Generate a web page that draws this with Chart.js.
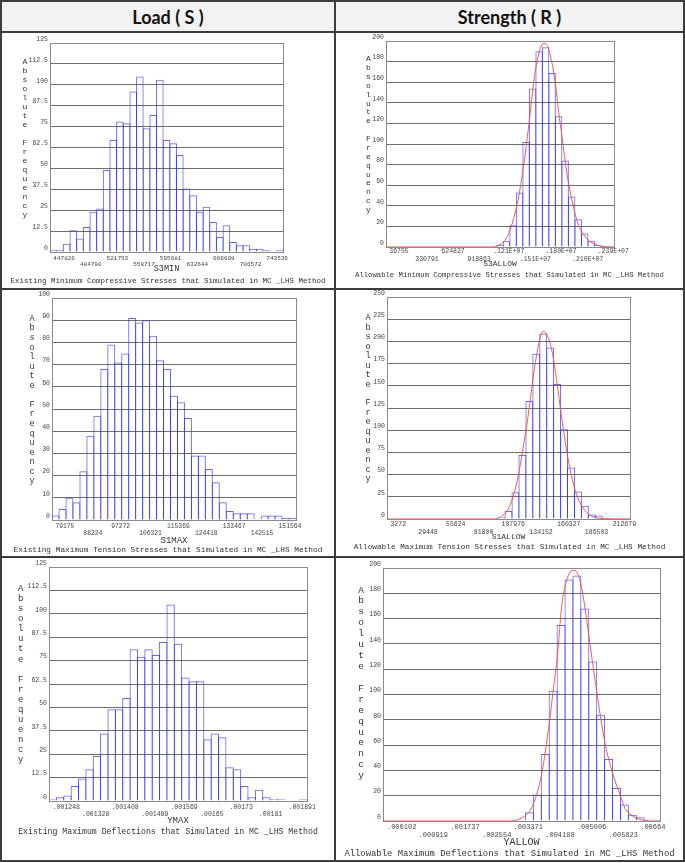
<!DOCTYPE html>
<html>
<head>
<meta charset="utf-8">
<script src="https://cdn.jsdelivr.net/npm/chart.js@4.4.1/dist/chart.umd.min.js"></script>
<style>
  body { margin: 0; background: #fff; }
  #page { position: relative; width: 685px; height: 863px; overflow: hidden; background: #fff; }
  .head { position: absolute; top: 2px; height: 29px; background: #f2f2f2; color: #111;
          font: bold 18px Lato, sans-serif; display: flex; align-items: center; justify-content: center; }
  .cap { position: absolute; text-align: center; white-space: nowrap; color: #333;
         font-family: "Liberation Mono", monospace; line-height: 10px; }
  .rule { position: absolute; background: #3c3c3c; }
  canvas { position: absolute; }
</style>
</head>
<body>
<div id="page">
  <div class="head" style="left:2px;width:332px">Load ( S )</div>
  <div class="head" style="left:336px;width:347px">Strength ( R )</div>

  <canvas id="c1" width="332" height="255" style="left:2px;top:33px"></canvas>
  <canvas id="c2" width="347" height="255" style="left:336px;top:33px"></canvas>
  <canvas id="c3" width="332" height="266" style="left:2px;top:290px"></canvas>
  <canvas id="c4" width="347" height="266" style="left:336px;top:290px"></canvas>
  <canvas id="c5" width="332" height="302" style="left:2px;top:558px"></canvas>
  <canvas id="c6" width="347" height="302" style="left:336px;top:558px"></canvas>

  <div class="cap" style="left:2px;width:332px;top:276px;font-size:7.5px">Existing Minimum Compressive Stresses that Simulated in MC _LHS Method</div>
  <div class="cap" style="left:336px;width:347px;top:270px;font-size:7.25px">Allowable Minimum Compressive Stresses that Simulated in MC _LHS Method</div>
  <div class="cap" style="left:2px;width:332px;top:545px;font-size:7.8px">Existing Maximum Tension Stresses that Simulated in MC _LHS Method</div>
  <div class="cap" style="left:336px;width:347px;top:542px;font-size:7.75px">Allowable Maximum Tension Stresses that Simulated in MC _LHS Method</div>
  <div class="cap" style="left:2px;width:332px;top:827px;font-size:8.2px">Existing Maximum Deflections that Simulated in MC _LHS Method</div>
  <div class="cap" style="left:336px;width:347px;top:849px;font-size:8.9px">Allowable Maximum Deflections that Simulated in MC _LHS Method</div>

  <div class="rule" style="left:0;top:0;width:685px;height:2px"></div>
  <div class="rule" style="left:0;top:31px;width:685px;height:2px"></div>
  <div class="rule" style="left:0;top:288px;width:685px;height:2px"></div>
  <div class="rule" style="left:0;top:556px;width:685px;height:2px"></div>
  <div class="rule" style="left:0;top:860px;width:685px;height:2px"></div>
  <div class="rule" style="left:0;top:0;width:2px;height:862px"></div>
  <div class="rule" style="left:334px;top:0;width:2px;height:862px"></div>
  <div class="rule" style="left:683px;top:0;width:2px;height:862px"></div>
</div>

<script>
// histogram counts (35 bins, 1200 samples) and axis labels
const s3minTicks = ['447826', '484790', '521753', '558717', '595681', '632644', '669608', '706572', '743536'];
const s3minCounts = [1, 1, 5, 13, 8, 15, 24, 26, 49, 67, 78, 77, 96, 105, 74, 82, 103, 67, 65, 58,
                     38, 34, 24, 27, 18, 9, 16, 6, 4, 4, 2, 2, 1, 0, 1];

const s3allowTicks = ['36755', '330791', '624827', '918863', '.121E+07', '.151E+07', '.180E+07', '.210E+07', '.239E+07'];
const s3allowCounts = [0, 0, 0, 0, 0, 0, 0, 0, 0, 0, 0, 0, 0, 0, 0, 0, 0,
                       2, 6, 21, 53, 102, 154, 190, 194, 169, 127, 84, 49, 27, 13, 6, 2, 1, 1];
const s3allowFitX = [0, 1196463, 1271473, 1328098, 1384723, 1440612, 1497237, 1553862, 1609752, 1666377,
                     1703882, 1742122, 1779627, 1806101, 1854637, 1911262, 1948766, 1986271, 2042896,
                     2099521, 2155411, 2212036, 2287045, 2362791, 2437800, 2569435];
const s3allowFitY = [0, 0, 1.6, 4.9, 13, 27.6, 48.6, 79.4, 116.7, 158.8, 179.9, 192.9, 197.7, 197.1,
                     186.4, 158.8, 131.3, 107, 71.3, 45.4, 25.9, 14.6, 6.5, 2.6, 0.6, 0];

const s1maxTicks = ['79175', '88224', '97272', '106321', '115369', '124418', '133467', '142515', '151564'];
const s1maxCounts = [2, 5, 10, 8, 22, 38, 47, 68, 79, 71, 75, 91, 89, 90, 83, 72, 68, 56, 53, 46,
                     29, 29, 23, 17, 8, 4, 3, 3, 3, 0, 2, 2, 2, 1, 1];

const s1allowTicks = ['3272', '29448', '55624', '81800', '107976', '134152', '160327', '186503', '212679'];
const s1allowCounts = [0, 0, 0, 0, 0, 0, 0, 0, 0, 0, 0, 0, 0, 0, 0, 0,
                       2, 9, 30, 72, 133, 186, 209, 193, 152, 101, 58, 31, 15, 5, 4, 1, 0, 0, 1];
const s1allowFitX = [0, 101497, 104639, 109350, 114062, 118774, 123485, 128197, 132909, 137620, 140761,
                     143903, 147044, 149269, 153326, 156467, 159608, 164320, 169032, 173743, 178455,
                     183167, 189449, 195731, 205220, 229040];
const s1allowFitY = [0, 0, 1.1, 4.1, 10.9, 24.8, 47.4, 79.4, 115.2, 158.5, 183, 201.8, 211.2, 210.1,
                     199.9, 183, 158.5, 117.1, 79.4, 49.3, 28.6, 15.4, 6, 1.9, 0.4, 0];

const ymaxTicks = ['.001248', '.001328', '.001408', '.001489', '.001569', '.00165', '.00173', '.00181', '.001891'];
const ymaxCounts = [1, 2, 3, 8, 12, 17, 24, 36, 49, 49, 55, 81, 77, 81, 78, 85, 105, 84, 66, 64,
                    64, 33, 36, 34, 18, 17, 8, 2, 6, 2, 1, 1, 0, 0, 1];

const yallowTicks = ['.000102', '.000919', '.001737', '.002554', '.003371', '.004188', '.005006', '.005823', '.00664'];
const yallowCounts = [0, 0, 0, 0, 0, 0, 0, 0, 0, 0, 0, 0, 0, 0, 0, 0, 0,
                      1, 7, 21, 53, 103, 155, 191, 194, 168, 126, 84, 49, 26, 13, 5, 3, 0, 1];
const yallowFitX = [0, 0.003326, 0.003412, 0.003583, 0.003755, 0.003884, 0.004090, 0.004297, 0.004399,
                    0.004503, 0.004615, 0.004709, 0.004830, 0.004934, 0.005044, 0.005132, 0.005242,
                    0.005347, 0.005518, 0.005725, 0.005931, 0.006127, 0.006250, 0.006421, 0.006636,
                    0.006936, 0.007151];
const yallowFitY = [0, 0, 0.5, 2.4, 6.6, 13.7, 36.1, 78.3, 104.6, 131, 170.5, 186.3, 196.8, 198.2, 194.2,
                    183.7, 162.6, 138.9, 102, 62.5, 37.5, 20.3, 10, 4.5, 1.3, 0, 0];

const freqMax = [125, 200, 100, 250, 125, 200];
const freqStep = [12.5, 20, 10, 25, 12.5, 20];

const MONO = '"Liberation Mono", "Courier New", monospace';

// box around the plot area
const frame = {
  id: 'frame',
  beforeDatasetsDraw(chart) {
    const { ctx, chartArea: a } = chart;
    ctx.save();
    ctx.strokeStyle = '#8a8a8a';
    ctx.lineWidth = 1;
    ctx.strokeRect(Math.round(a.left) + 0.5, Math.round(a.top) + 0.5, Math.round(a.width), Math.round(a.height));
    ctx.restore();
  }
};

// y title written as a column of upright letters
const stackLabel = {
  id: 'stackLabel',
  afterDraw(chart, args, o) {
    const ctx = chart.ctx;
    const chars = o.text.split('');
    const step = (o.y1 - o.y0) / (chars.length - 1);
    ctx.save();
    ctx.font = o.size + 'px ' + MONO;
    ctx.fillStyle = '#333';
    ctx.textAlign = 'center';
    ctx.textBaseline = 'middle';
    chars.forEach((c, i) => ctx.fillText(c, o.x, o.y0 + i * step));
    ctx.restore();
  }
};

function histogram(id, k, o) {
  const tv = o.ticks.map(Number);
  const w = (tv[tv.length - 1] - tv[0]) / (tv.length - 1) / 4;   // 4 bins between labels
  const datasets = [];
  if (o.fitX) {
    datasets.push({
      type: 'line',
      data: o.fitX.map((x, i) => ({ x: x, y: o.fitY[i] })),
      borderColor: 'rgba(255,70,70,0.9)',
      borderWidth: 1,
      pointRadius: 0,
      cubicInterpolationMode: 'monotone'
    });
  }
  datasets.push({
    type: 'bar',
    data: o.counts.map((c, i) => ({ x: tv[0] + i * w, y: c })),
    backgroundColor: 'rgba(0,0,0,0)',
    borderColor: 'rgba(45,45,255,0.72)',
    borderWidth: 1,
    barPercentage: 1.14,
    categoryPercentage: 1
  });

  new Chart(document.getElementById(id), {
    type: 'bar',
    data: { datasets },
    options: {
      responsive: false,
      animation: false,
      events: [],
      layout: { padding: o.pad },
      plugins: {
        legend: { display: false },
        tooltip: { enabled: false },
        stackLabel: Object.assign({ text: 'Absolute Frequency' }, o.stack)
      },
      scales: {
        x: {
          type: 'linear',
          offset: false,
          min: tv[0] - w / 2,
          max: tv[0] + 34.5 * w,
          grid: { display: false, drawTicks: false, offset: false },
          border: { display: false },
          afterBuildTicks: s => { s.ticks = tv.map(v => ({ value: v })); },
          afterFit: s => { s.height = o.xh; },
          ticks: {
            autoSkip: false, maxRotation: 0, minRotation: 0, align: 'start',
            padding: o.tickPad, color: '#444',
            font: { family: MONO, size: o.tickSize, lineHeight: o.tickLh + 'px' },
            callback: (v, i) => (i % 2 ? ['', o.ticks[i]] : o.ticks[i])
          },
          title: {
            display: true, text: o.name, color: '#333',
            font: { family: MONO, size: o.titleSize, lineHeight: 1.2 },
            padding: { top: 0, bottom: o.titlePad }
          }
        },
        y: {
          min: 0,
          max: freqMax[k],
          grid: { color: '#6e6e6e', drawTicks: false },
          border: { display: false },
          afterFit: s => { s.width = 30; },
          ticks: {
            stepSize: freqStep[k], padding: 2, labelOffset: -4, color: '#444',
            font: { family: MONO, size: 6.5 }
          }
        }
      }
    },
    plugins: [frame, stackLabel]
  });
}

histogram('c1', 0, {
  ticks: s3minTicks, counts: s3minCounts, name: 'S3MIN',
  pad: { left: 18, right: 51, top: 10, bottom: 0 }, xh: 36,
  tickPad: 3, tickSize: 6, tickLh: 6.6, titleSize: 8.5, titlePad: 14,
  stack: { x: 23, y0: 28.7, y1: 182, size: 8 }
});
histogram('c2', 1, {
  ticks: s3allowTicks, counts: s3allowCounts, fitX: s3allowFitX, fitY: s3allowFitY, name: 'S3ALLOW',
  pad: { left: 20, right: 69, top: 8, bottom: 0 }, xh: 41,
  tickPad: 0.5, tickSize: 6.5, tickLh: 8, titleSize: 8, titlePad: 19,
  stack: { x: 32.3, y0: 26, y1: 177, size: 8 }
});
histogram('c3', 2, {
  ticks: s1maxTicks, counts: s1maxCounts, name: 'S1MAX',
  pad: { left: 20, right: 38, top: 8, bottom: 0 }, xh: 36,
  tickPad: 3, tickSize: 6.3, tickLh: 7, titleSize: 9, titlePad: 10.3,
  stack: { x: 30, y0: 28.7, y1: 191, size: 8.5 }
});
histogram('c4', 3, {
  ticks: s1allowTicks, counts: s1allowCounts, fitX: s1allowFitX, fitY: s1allowFitY, name: 'S1ALLOW',
  pad: { left: 21, right: 53, top: 7, bottom: 0 }, xh: 37,
  tickPad: 1, tickSize: 6.5, tickLh: 8, titleSize: 8, titlePad: 13.9,
  stack: { x: 32, y0: 28, y1: 189, size: 8.5 }
});
histogram('c5', 4, {
  ticks: ymaxTicks, counts: ymaxCounts, name: 'YMAX',
  pad: { left: 17, right: 27, top: 9, bottom: 0 }, xh: 59,
  tickPad: 2, tickSize: 6.5, tickLh: 7.6, titleSize: 9, titlePad: 33.6,
  stack: { x: 18.7, y0: 30.7, y1: 201.7, size: 9 }
});
histogram('c6', 5, {
  ticks: yallowTicks, counts: yallowCounts, fitX: yallowFitX, fitY: yallowFitY, name: 'YALLOW',
  pad: { left: 17, right: 23, top: 10, bottom: 0 }, xh: 39,
  tickPad: 2, tickSize: 7, tickLh: 8, titleSize: 10, titlePad: 11.7,
  stack: { x: 25, y0: 32, y1: 217.7, size: 9.5 }
});
</script>
</body>
</html>
